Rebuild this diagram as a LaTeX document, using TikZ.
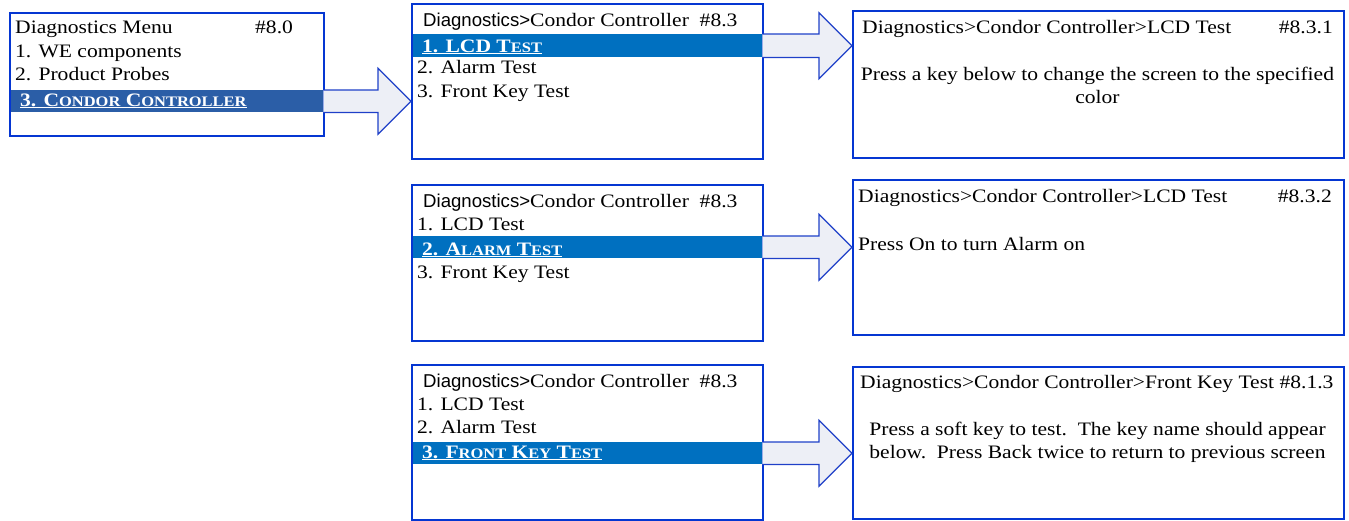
\documentclass[tikz,border=0pt]{standalone}
\usepackage{fontspec}
\setmainfont{Liberation Serif}[FakeStretch=1.135]
\newfontfamily\hsans{Liberation Sans}
\usetikzlibrary{calc}
\pgfdeclarelayer{bg}\pgfsetlayers{bg,main}
\definecolor{boxblue}{HTML}{0536D2}
\definecolor{barA}{HTML}{2B5EA7}
\definecolor{barB}{HTML}{0070C0}
\definecolor{arrfill}{HTML}{EDEFF6}
\definecolor{arrline}{HTML}{1F40C8}
\newcommand\fsc[2]{#1{\fontsize{14.5}{14.5}\selectfont #2}}
\newcommand\sanshead{{\hsans\fontsize{18.6}{23}\selectfont Diagnostics>}}
\begin{document}
\begin{tikzpicture}[x=1pt,y=-1pt,
 screen/.style={draw=boxblue, line width=2.2pt, anchor=north west, inner sep=0pt},
 txt/.style={anchor=base west, inner sep=0pt, font=\fontsize{19}{23}\selectfont},
 rtxt/.style={txt, anchor=base east},
 ctxt/.style={txt, anchor=base},
 hl/.style={txt, text=white, font=\fontsize{19}{23}\selectfont\bfseries},
 bar/.style={anchor=north west, inner sep=0pt, fill=#1, minimum height=22pt},
 flow/.style={draw=arrline, line width=1.2pt, fill=arrfill, line join=miter}]
\useasboundingbox (0,0) rectangle (1349,520);

% screens
\node[screen, minimum width=314pt, minimum height=123pt] (b1) at (9,12) {};
\node[screen, minimum width=351pt, minimum height=155pt] (b2) at (411,3) {};
\node[screen, minimum width=491pt, minimum height=147pt] (b3) at (852,10) {};
\node[screen, minimum width=351pt, minimum height=156pt] (b4) at (411,184) {};
\node[screen, minimum width=491pt, minimum height=155pt] (b5) at (852,179) {};
\node[screen, minimum width=351pt, minimum height=155pt] (b6) at (411,364) {};
\node[screen, minimum width=491pt, minimum height=152pt] (b7) at (852,366) {};

% highlight bars
\begin{pgfonlayer}{bg}
\node[bar=barA, minimum width=314pt] (bar1) at (9,90) {};
\node[bar=barB, minimum width=351pt, minimum height=23pt] (bar2) at (411,34) {};
\node[bar=barB, minimum width=351pt] (bar4) at (411,236) {};
\node[bar=barB, minimum width=351pt] (bar6) at (411,442) {};
\end{pgfonlayer}

% box 1
\node[txt] (t11) at (15,33) {Diagnostics Menu};
\node[txt] (t12) at (255,33) {\#8.0};
\node[txt] (t13) at (15,57) {1. WE components};
\node[txt] (t14) at (15,80) {2. Product Probes};
\node[hl] (t15) at (20,106) {\underline{3. \fsc{C}{ONDOR} \fsc{C}{ONTROLLER}}};

% box 2
\node[txt] (t21) at (423,26) {\sanshead Condor Controller\ \ \#8.3};
\node[hl] (t22) at (422,52) {\underline{1. LCD T\fsc{}{EST}}};
\node[txt] (t23) at (417,73) {2. Alarm Test};
\node[txt] (t24) at (417,97) {3. Front Key Test};

% box 3
\node[txt] (t31) at (862,33) {Diagnostics>Condor Controller>LCD Test};
\node[rtxt] (t32) at (1333,33) {\#8.3.1};
\node[ctxt] (t33) at (1097.5,80) {Press a key below to change the screen to the specified};
\node[ctxt] (t34) at (1097.5,103) {color};

% box 4
\node[txt] (t41) at (423,207) {\sanshead Condor Controller\ \ \#8.3};
\node[txt] (t42) at (417,230) {1. LCD Test};
\node[hl] (t43) at (422,255) {\underline{2. A\fsc{}{LARM} T\fsc{}{EST}}};
\node[txt] (t44) at (417,278) {3. Front Key Test};

% box 5
\node[txt] (t51) at (858,202) {Diagnostics>Condor Controller>LCD Test};
\node[rtxt] (t52) at (1332,202) {\#8.3.2};
\node[txt] (t53) at (858,250) {Press On to turn Alarm on};

% box 6
\node[txt] (t61) at (423,387) {\sanshead Condor Controller\ \ \#8.3};
\node[txt] (t62) at (417,410) {1. LCD Test};
\node[txt] (t63) at (417,433) {2. Alarm Test};
\node[hl] (t64) at (422,458) {\underline{3. F\fsc{}{RONT} K\fsc{}{EY} T\fsc{}{EST}}};

% box 7
\node[txt] (t71) at (860,388) {Diagnostics>Condor Controller>Front Key Test \#8.1.3};
\node[ctxt] (t72) at (1097.5,435) {Press a soft key to test.\ \ The key name should appear};
\node[ctxt] (t73) at (1097.5,458) {below.\ \ Press Back twice to return to previous screen};

% block arrows
\foreach \bar/\dst in {bar1/b2, bar2/b3, bar4/b5, bar6/b7}{
  \coordinate (tip) at (\dst.west |- \bar.center);
  \draw[flow] (\bar.north east) -- ([xshift=-33pt]tip |- \bar.north)
    -- ([xshift=-33pt,yshift=33pt]tip) -- (tip)
    -- ([xshift=-33pt,yshift=-33pt]tip) -- ([xshift=-33pt]tip |- \bar.south)
    -- (\bar.south east);
}
\end{tikzpicture}
\end{document}
